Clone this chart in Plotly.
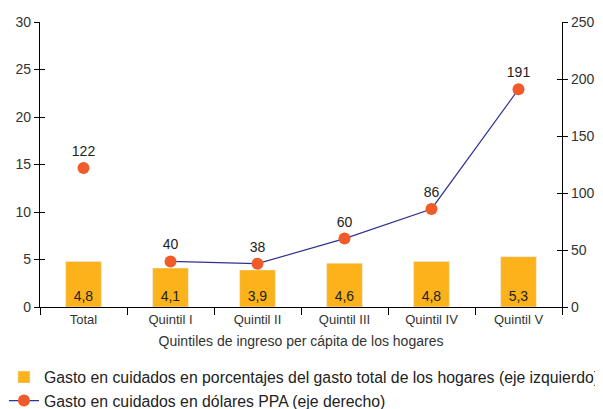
import plotly.graph_objects as go

categories = ["Total", "Quintil I", "Quintil II", "Quintil III", "Quintil IV", "Quintil V"]
pct_values = [4.8, 4.1, 3.9, 4.6, 4.8, 5.3]
usd_values = [122, 40, 38, 60, 86, 191]
left_ticks = [0, 5, 10, 15, 20, 25, 30]
right_ticks = [0, 50, 100, 150, 200, 250]

BAR = "#FBB21B"
DOT = "#F15A29"
LINE = "#2E3192"
FONT = "Liberation Sans, Arial, sans-serif"
TXT = "#333"

fig = go.Figure()
fig.add_trace(go.Bar(
    x=categories, y=pct_values, marker_color=BAR, width=0.41,
    name="Gasto en cuidados en porcentajes del gasto total de los hogares (eje izquierdo)",
    texttemplate="%{y:.1f}", textposition="inside", insidetextanchor="start",
    textfont=dict(color="#222", size=14), yaxis="y", cliponaxis=False,
    legendgroup="a",
))
fig.add_trace(go.Scatter(
    x=categories[:1], y=usd_values[:1], mode="markers+text", yaxis="y2",
    marker=dict(color=DOT, size=12), text=[str(v) for v in usd_values[:1]],
    textposition="top center", textfont=dict(color="#222", size=14), showlegend=False,
    legendgroup="b",
))
fig.add_trace(go.Scatter(
    x=categories[1:], y=usd_values[1:], mode="lines+markers+text", yaxis="y2",
    line=dict(color=LINE, width=1.2), marker=dict(color=DOT, size=12),
    text=[str(v) for v in usd_values[1:]], textposition="top center",
    textfont=dict(color="#222", size=14),
    name="Gasto en cuidados en dólares PPA (eje derecho)", legendgroup="b",
))

axis_font = dict(family=FONT, size=14, color=TXT)
fig.update_layout(
    width=595, height=401,
    margin=dict(l=32, r=41, t=14, b=102, autoexpand=False),
    plot_bgcolor="white", paper_bgcolor="white",
    separators=",.",
    font=dict(family=FONT, size=14, color=TXT),
    showlegend=True,
    legend=dict(orientation="v", x=-0.069, y=-0.187, xanchor="left", yanchor="top",
                font=dict(family=FONT, size=15.8, color="#222"), tracegroupgap=0,
                bgcolor="rgba(0,0,0,0)"),
    xaxis=dict(type="category", categoryorder="array", categoryarray=categories,
               showline=True, linecolor="#000", linewidth=1.2, ticks="outside",
               tickson="boundaries", ticklen=7, tickcolor="#000", showgrid=False,
               tickfont=dict(family=FONT, size=13, color=TXT),
               title=dict(text="Quintiles de ingreso per cápita de los hogares",
                          font=dict(family=FONT, size=14, color=TXT), standoff=10)),
    yaxis=dict(range=[0, 30], tickvals=left_ticks, showline=True, linecolor="#000",
               linewidth=1.2, ticks="outside", ticklen=5, tickcolor="#000",
               showgrid=False, zeroline=False, tickfont=axis_font),
    yaxis2=dict(range=[0, 250], tickvals=right_ticks, overlaying="y", side="right",
                showline=True, linecolor="#000", linewidth=1.2, ticks="outside",
                ticklen=5, tickcolor="#000", showgrid=False, zeroline=False,
                tickfont=axis_font),
    yaxis3=dict(range=[0, 30], tickvals=left_ticks, overlaying="y", side="left",
                showline=False, ticks="inside", ticklen=5, tickcolor="#000",
                showticklabels=False, showgrid=False, zeroline=False),
    yaxis4=dict(range=[0, 250], tickvals=right_ticks, overlaying="y", side="right",
                showline=False, ticks="inside", ticklen=5, tickcolor="#000",
                showticklabels=False, showgrid=False, zeroline=False),
)
# invisible helper traces so the inside-tick axes are drawn
fig.add_trace(go.Scatter(x=categories[:1], y=[None], yaxis="y3", showlegend=False, hoverinfo="skip"))
fig.add_trace(go.Scatter(x=categories[:1], y=[None], yaxis="y4", showlegend=False, hoverinfo="skip"))

fig.write_html("out.html")
